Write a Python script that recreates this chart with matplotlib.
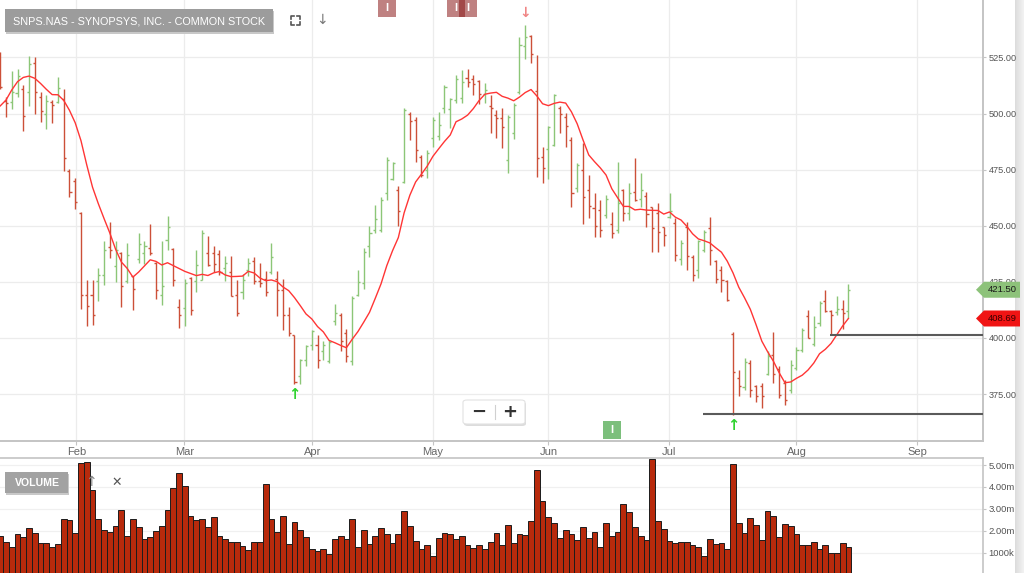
import matplotlib
matplotlib.use("Agg")
import matplotlib.pyplot as plt
import numpy as np
import pandas as pd
from matplotlib.patches import Rectangle, Polygon, FancyBboxPatch
from matplotlib.lines import Line2D

plt.rcParams["font.family"] = ["Liberation Sans", "DejaVu Sans"]

title = "SNPS.NAS - SYNOPSYS, INC. - COMMON STOCK"

# daily bars
opens = [527.0, 505.5, 505.0, 509.0, 510.8, 509.7, 522.6, 507.5, 499.8, 505.3,
         505.3, 506.3, 474.6, 470.0, 455.9, 419.3, 419.3, 425.2, 428.2, 440.5,
         432.0, 438.0, 425.5, 427.4, 435.0, 438.0, 440.0, 433.6, 419.0, 443.7,
         439.6, 413.8, 413.3, 426.7, 425.2, 425.9, 437.8, 437.8, 437.5, 431.1,
         429.6, 419.2, 420.7, 430.1, 434.5, 425.5, 426.2, 429.6, 426.2, 421.5,
         410.3, 401.4, 383.2, 390.0, 397.0, 397.0, 394.1, 389.6, 407.4, 410.4,
         402.2, 389.6, 419.3, 424.5, 440.8, 448.2, 448.2, 464.5, 470.7, 466.0,
         469.7, 500.0, 497.1, 480.8, 474.9, 489.0, 490.0, 502.3, 502.0, 506.0,
         507.0, 516.0, 515.3, 514.4, 508.5, 503.5, 499.3, 497.8, 479.3, 491.2,
         509.7, 530.0, 534.5, 510.2, 480.8, 484.0, 486.0, 502.7, 498.6, 488.0,
         467.0, 475.0, 466.0, 458.0, 457.0, 455.0, 451.0, 448.0, 465.9, 455.6,
         465.2, 462.0, 463.3, 458.2, 455.6, 449.3, 454.0, 451.4, 435.1, 449.6,
         436.0, 430.1, 439.3, 448.9, 434.1, 430.4, 425.6, 401.9, 382.2, 378.0,
         389.0, 378.5, 378.5, 384.1, 392.6, 386.0, 380.0, 377.0, 386.7, 394.8,
         409.6, 397.5, 406.7, 416.3, 412.0, 411.5, 413.0, 411.9]
highs = [527.5, 507.5, 519.0, 520.0, 512.7, 525.6, 525.0, 509.7, 508.2, 506.0,
         516.1, 510.8, 475.2, 471.2, 456.3, 425.9, 425.9, 431.1, 443.0, 451.9,
         443.0, 438.5, 442.2, 427.7, 447.0, 443.4, 450.7, 434.0, 443.4, 454.4,
         440.0, 417.3, 426.2, 427.1, 439.3, 447.9, 445.5, 441.0, 439.3, 436.6,
         436.6, 425.9, 428.6, 435.6, 436.0, 433.6, 430.0, 442.2, 430.0, 426.2,
         413.8, 401.4, 390.6, 397.0, 403.7, 401.5, 398.5, 399.3, 415.3, 411.1,
         404.0, 418.5, 430.1, 440.0, 449.7, 459.3, 463.0, 480.5, 478.6, 467.5,
         502.3, 500.8, 498.3, 481.5, 483.8, 498.3, 500.5, 512.7, 507.0, 517.1,
         519.4, 519.8, 517.1, 514.9, 513.4, 508.2, 501.8, 502.7, 499.3, 504.5,
         534.2, 539.4, 534.9, 526.0, 485.2, 494.4, 508.7, 503.3, 500.3, 489.4,
         478.0, 487.0, 472.7, 464.5, 461.5, 463.8, 456.3, 478.6, 466.2, 469.2,
         480.1, 473.4, 465.2, 458.5, 460.3, 449.6, 464.5, 453.3, 443.7, 451.9,
         437.0, 443.7, 448.2, 454.1, 434.8, 432.1, 425.9, 402.5, 385.9, 391.1,
         390.4, 379.2, 380.0, 394.1, 402.5, 387.7, 381.5, 390.1, 396.0, 404.4,
         412.3, 409.6, 416.3, 421.5, 412.6, 418.5, 417.0, 424.2]
lows = [511.0, 498.3, 502.0, 507.5, 492.4, 503.4, 499.8, 496.4, 493.0, 495.6,
        504.5, 474.6, 463.0, 457.4, 412.9, 405.5, 405.9, 416.3, 423.7, 435.6,
        424.8, 413.8, 424.7, 412.3, 433.3, 433.0, 437.0, 417.3, 414.8, 439.3,
        423.2, 404.4, 405.2, 410.3, 420.3, 425.9, 432.1, 429.6, 428.1, 425.2,
        418.5, 409.9, 417.3, 427.7, 424.1, 422.7, 418.8, 428.4, 409.6, 403.4,
        400.7, 379.6, 379.6, 387.4, 394.8, 386.7, 390.4, 388.9, 405.9, 394.1,
        389.2, 388.0, 418.5, 421.8, 436.3, 446.7, 447.4, 461.5, 470.4, 450.0,
        469.0, 488.2, 478.6, 471.9, 471.2, 485.3, 488.2, 500.1, 493.4, 504.5,
        504.5, 511.9, 508.2, 504.1, 504.5, 491.2, 488.9, 484.5, 473.6, 488.5,
        508.9, 524.1, 522.6, 471.6, 469.2, 470.7, 485.5, 491.2, 485.0, 458.5,
        465.0, 451.0, 453.4, 444.9, 444.9, 453.4, 444.5, 446.7, 452.3, 452.6,
        461.2, 458.5, 449.3, 438.5, 438.5, 441.0, 453.3, 434.1, 432.6, 430.4,
        425.6, 426.7, 438.5, 432.6, 424.4, 420.3, 416.3, 365.9, 374.0, 377.0,
        373.8, 371.4, 368.9, 383.7, 380.0, 373.3, 370.3, 375.5, 385.9, 393.6,
        400.0, 396.3, 405.5, 411.4, 401.2, 410.4, 404.0, 408.9]
closes = [512.0, 504.8, 509.5, 516.7, 499.0, 522.0, 509.7, 501.3, 505.7, 503.8,
          511.2, 480.1, 465.2, 460.8, 419.3, 414.1, 410.4, 428.2, 439.0, 439.3,
          439.0, 423.2, 437.0, 421.8, 442.0, 441.0, 437.8, 421.2, 423.0, 449.3,
          426.0, 410.3, 424.4, 412.3, 432.6, 446.7, 432.6, 433.0, 429.2, 433.6,
          418.8, 411.1, 425.9, 433.6, 425.2, 424.4, 420.7, 436.0, 421.5, 410.3,
          402.2, 380.2, 390.3, 396.3, 403.0, 390.4, 397.0, 398.0, 411.1, 398.5,
          391.8, 417.7, 424.8, 438.1, 446.7, 452.9, 461.5, 479.3, 477.8, 456.8,
          501.6, 496.8, 483.8, 472.5, 482.6, 497.0, 495.0, 511.9, 506.7, 515.6,
          514.0, 513.9, 513.0, 508.5, 510.5, 502.3, 498.2, 494.1, 498.6, 503.8,
          530.5, 534.2, 526.4, 480.0, 475.6, 493.9, 508.2, 499.8, 494.4, 464.8,
          477.0, 463.0, 459.0, 450.0, 448.0, 462.0, 447.0, 460.0, 455.6, 464.5,
          461.5, 466.0, 455.3, 448.9, 447.4, 445.9, 456.5, 437.0, 442.5, 436.6,
          428.1, 443.0, 447.4, 439.0, 426.2, 425.9, 417.0, 384.7, 378.5, 389.5,
          377.0, 374.0, 374.0, 392.1, 384.1, 374.4, 372.3, 388.1, 394.8, 403.4,
          400.0, 405.0, 415.6, 411.9, 410.4, 413.0, 411.3, 421.5]
# volume in millions
volumes = [1.78, 1.51, 1.25, 1.86, 1.70, 2.12, 1.92, 1.46, 1.46, 1.25,
           1.39, 2.53, 2.48, 1.92, 5.08, 5.13, 3.87, 2.53, 2.02, 1.95,
           2.24, 2.94, 1.77, 2.53, 2.18, 1.61, 1.70, 1.98, 2.22, 2.94,
           3.93, 4.63, 4.05, 2.66, 2.48, 2.53, 2.18, 2.62, 1.77, 1.61,
           1.49, 1.49, 1.31, 1.10, 1.49, 1.49, 4.12, 2.53, 1.95, 2.69,
           1.39, 2.40, 2.02, 1.72, 1.16, 1.08, 1.16, 0.93, 1.61, 1.77,
           1.61, 2.53, 1.25, 2.02, 1.39, 1.77, 2.12, 1.84, 1.46, 1.87,
           2.88, 2.24, 1.54, 1.16, 1.34, 0.85, 1.66, 1.92, 1.86, 1.61,
           1.74, 1.34, 1.20, 1.34, 1.16, 1.51, 1.92, 1.34, 2.27, 1.43,
           1.86, 1.80, 2.44, 4.75, 3.35, 2.62, 2.36, 1.66, 2.04, 1.83,
           1.58, 2.16, 1.66, 1.96, 1.28, 2.36, 1.74, 1.95, 3.23, 2.86,
           2.16, 1.74, 1.58, 5.27, 2.44, 2.07, 1.55, 1.43, 1.51, 1.51,
           1.34, 1.25, 0.85, 1.61, 1.40, 1.43, 1.17, 5.04, 2.37, 1.92,
           2.57, 2.25, 1.58, 2.92, 2.68, 1.70, 2.33, 2.24, 1.83, 1.37,
           1.37, 1.49, 1.17, 1.37, 0.97, 1.00, 1.46, 1.25]
# moving average before its 10-day window is full
ma_head = [503.4, 506.0, 510.5, 514.2, 516.1, 516.7, 515.7, 513.4, 510.8]

month_labels = ["Feb", "Mar", "Apr", "May", "Jun", "Jul", "Aug", "Sep"]
month_pos = [13.2, 31.9, 54.1, 75.0, 95.0, 115.9, 138.0, 158.9]
price_ticks = [375, 400, 425, 450, 475, 500, 525]
vol_ticks = [1, 2, 3, 4, 5]
vol_tick_labels = ["1000k", "2.00m", "3.00m", "4.00m", "5.00m"]

support_start = [122, 144]
support_level = [366.3, 401.2]
up_arrow_bars = [51, 127]
down_arrow_bars = [91]
event_top_bars = [67, 79, 81]
event_bottom_bars = [106]

W, H = 1024, 573
RED = "#cc5038"
GREEN = "#8cc677"
GRID = "#ececec"
AXC = "#c4c4c4"

fig = plt.figure(figsize=(W / 100, H / 100), dpi=100)
fig.patch.set_facecolor("white")


def fx(px):
    return px / W


def fy(py):
    return 1 - py / H


ax = fig.add_axes([0, fy(441), fx(983), 441 / H])
axv = fig.add_axes([0, 0, fx(983), 115 / H], sharex=ax)

x = np.arange(len(closes))
o = np.array(opens)
h = np.array(highs)
lo = np.array(lows)
c = np.array(closes)
cols = np.where(c >= o, GREEN, RED)

ax.vlines(x, lo, h, colors=cols, lw=1.0, zorder=3)
ax.hlines(o, x - 0.36, x, colors=cols, lw=1.0, zorder=3)
ax.hlines(c, x, x + 0.36, colors=cols, lw=1.0, zorder=3)

ma = pd.Series(closes).rolling(10).mean()
ma.iloc[:len(ma_head)] = ma_head
ax.plot(x, ma, color="#ff3535", lw=1.0, zorder=4)

ax.set_xlim(-0.035, 170.33)
ax.set_ylim(354.1, 550.6)

for s0, lvl in zip(support_start, support_level):
    ax.hlines(lvl, s0 - 0.2, ax.get_xlim()[1], colors="#5a5a5a", lw=1.5, zorder=5)

for i in up_arrow_bars:
    ax.annotate("↑", xy=(i, lows[i]), xytext=(0, -8), textcoords="offset points",
                ha="center", va="center", color="#2fd22f", fontsize=10.5,
                fontweight="bold", family="DejaVu Sans", zorder=6)
for i in down_arrow_bars:
    ax.annotate("↓", xy=(i, highs[i]), xytext=(0, 9), textcoords="offset points",
                ha="center", va="center", color="#f08585", fontsize=10,
                fontweight="bold", family="DejaVu Sans", zorder=6)

ax.set_yticks(price_ticks)
ax.set_yticklabels([f"{v:.2f}" for v in price_ticks])
ax.yaxis.tick_right()
ax.set_xticks(month_pos)
ax.set_xticklabels(month_labels)
ax.tick_params(axis="y", length=2.5, width=0.8, color=AXC, labelsize=6.6,
               labelcolor="#555555", pad=1.5)
ax.tick_params(axis="x", length=3, width=0.8, color=AXC, labelsize=8,
               labelcolor="#666666", pad=1.5)
ax.grid(True, color=GRID, lw=0.9)
ax.set_axisbelow(True)
for side in ["top", "left"]:
    ax.spines[side].set_visible(False)
for side in ["right", "bottom"]:
    ax.spines[side].set_color(AXC)
    ax.spines[side].set_linewidth(1.4)

# volume panel
axv.bar(x, volumes, width=1.0, color="#b82a0c", edgecolor="#1c1c1c", lw=0.7, zorder=3)
axv.set_ylim(0.073, 5.32)
axv.set_yticks(vol_ticks)
axv.set_yticklabels(vol_tick_labels)
axv.yaxis.tick_right()
axv.tick_params(axis="y", length=2.5, width=0.8, color=AXC, labelsize=6.8,
                labelcolor="#555555", pad=1.5)
axv.tick_params(axis="x", bottom=False, labelbottom=False)
axv.grid(True, axis="y", color="#f0f0f0", lw=0.9)
axv.set_axisbelow(True)
for side in ["left", "bottom"]:
    axv.spines[side].set_visible(False)
for side in ["right", "top"]:
    axv.spines[side].set_color(AXC)
    axv.spines[side].set_linewidth(1.2)

# right edge shading
axs = fig.add_axes([fx(1015), 0, fx(9), 1], zorder=-1)
axs.imshow(np.linspace(0.86, 0.95, 20)[None, :], cmap="gray", vmin=0, vmax=1,
           aspect="auto", extent=[0, 1, 0, 1])
axs.axis("off")


def box(x0, y0, w, hgt, **kw):
    r = Rectangle((fx(x0), fy(y0 + hgt)), w / W, hgt / H,
                  transform=fig.transFigure, **kw)
    fig.add_artist(r)


def ftext(px, py, s, **kw):
    fig.text(fx(px), fy(py), s, ha="center", va="center", **kw)


def bar_px(i):
    return ax.transData.transform((i, 0))[0]


# title box and icons
box(6, 11, 268, 23, fc="#c8c8c8", ec="none", zorder=5)
box(5, 9, 268, 23, fc="#9c9c9c", ec="none", zorder=6)
ftext(139, 21, title, color="white", fontsize=7.8, zorder=7)
ic = "#555555"
for cx, cy, dx, dy in [(291, 16, 1, 1), (300, 16, -1, 1), (291, 25, 1, -1), (300, 25, -1, -1)]:
    fig.add_artist(Line2D([fx(cx), fx(cx), fx(cx + 3 * dx)],
                          [fy(cy + 3 * dy), fy(cy), fy(cy)],
                          transform=fig.transFigure, color=ic, lw=1.2, zorder=7))
ftext(322, 20, "↓", color="#777777", fontsize=10, family="DejaVu Sans", zorder=7)

# event markers
for i in event_top_bars:
    px = bar_px(i)
    box(px - 9, 0, 18, 17, fc="#8b1a1a", alpha=0.55, ec="none", zorder=5)
    ftext(px, 8, "I", color="white", fontsize=8, fontweight="bold", zorder=7)
for i in event_bottom_bars:
    px = bar_px(i)
    box(px - 9, 421, 18, 18, fc="#7cbf7c", ec="none", zorder=5)
    ftext(px, 430, "I", color="white", fontsize=8, fontweight="bold", zorder=7)

# zoom control
fig.add_artist(FancyBboxPatch((fx(464), fy(426)), 62 / W, 24 / H,
                              boxstyle="round,pad=0,rounding_size=0.004",
                              transform=fig.transFigure, fc="#dcdcdc", ec="none", zorder=5))
fig.add_artist(FancyBboxPatch((fx(463), fy(424)), 62 / W, 24 / H,
                              boxstyle="round,pad=0,rounding_size=0.004",
                              transform=fig.transFigure, fc="white", ec="#e2e2e2",
                              lw=0.8, zorder=6))
fig.add_artist(Line2D([fx(495), fx(495)], [fy(405), fy(419)], transform=fig.transFigure,
                      color="#d0d0d0", lw=0.8, zorder=7))
ftext(479, 412, "−", color="#333333", fontsize=13, fontweight="bold",
      family="DejaVu Sans", zorder=7)
ftext(510, 412, "+", color="#333333", fontsize=13, fontweight="bold",
      family="DejaVu Sans", zorder=7)

# volume label
box(6, 474, 63, 21, fc="#c8c8c8", ec="none", zorder=5)
box(5, 472, 63, 21, fc="#a2a2a2", ec="none", zorder=6)
ftext(37, 482.5, "VOLUME", color="white", fontsize=7.6, fontweight="bold", zorder=7)
ftext(91, 482, "↑", color="#888888", fontsize=10, family="DejaVu Sans", zorder=7)
ftext(117, 482, "✕", color="#555555", fontsize=9, family="DejaVu Sans", zorder=7)


# last close / moving average tags
def tag(value, fc, tc):
    yp = H - ax.transData.transform((0, value))[1]
    pts = [(976, yp), (984, yp - 8), (1020, yp - 8), (1020, yp + 8), (984, yp + 8)]
    fig.add_artist(Polygon([(fx(a), fy(b)) for a, b in pts], closed=True,
                           transform=fig.transFigure, fc=fc, ec="none", zorder=8))
    ftext(1002, yp, f"{value:.2f}", color=tc, fontsize=6.8, zorder=9)


tag(closes[-1], "#8dc27a", "#1a1a1a")
tag(round(ma.iloc[-1], 2), "#f01414", "#3a0000")

fig.savefig("out.png", dpi=100)
